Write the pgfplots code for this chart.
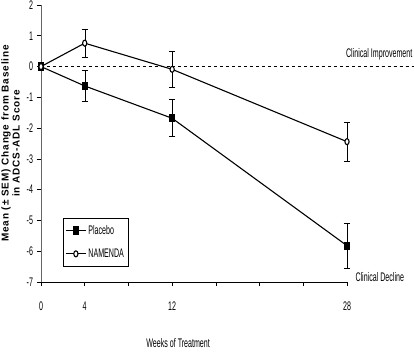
\documentclass[border=0pt]{standalone}
\usepackage{fontspec}
\setmainfont{Liberation Sans}
\newfontfamily\narrowfont[FakeStretch=0.57]{Liberation Sans}
\newfontfamily\labelfont[LetterSpace=9]{Liberation Sans}
\usepackage{pgfplots}
\pgfplotsset{compat=1.18}
\newcommand{\nf}{\narrowfont\fontsize{12.5}{14}\selectfont}
\begin{document}
\begin{tikzpicture}
\begin{axis}[
  at={(0,0)}, anchor=south west,
  scale only axis, width=306bp, height=277bp,
  xmin=0, xmax=28, ymin=-7, ymax=2,
  clip=false,
  axis x line*=bottom, axis y line*=left,
  axis line style={-, line width=0.8bp},
  y axis line style={gray!80!black},
  xtick={0,4,...,28}, xticklabels={0,4,,12,,,,28},
  ytick={-7,...,2},
  tick align=outside, major tick length=4bp,
  tick style={black, line width=0.6bp},
  /pgf/number format/assume math mode=true,
  ticklabel style={font=\nf},
  xticklabel style={yshift=-12bp},
  yticklabel style={xshift=-0.5bp},
  xlabel={Weeks of Treatment},
  xlabel style={at={(axis description cs:0.448,0)}, anchor=center, yshift=-61bp, font=\nf},
  legend style={at={(axis description cs:0.072,0.231)}, anchor=north west,
    draw=black, line width=0.6bp, font=\nf,
    row sep=9bp, inner xsep=2bp, inner ysep=5bp},
  legend cell align=left,
  legend image code/.code={\draw[mark repeat=2,mark phase=2,#1] plot coordinates {(0bp,0bp)(10bp,0bp)(20bp,0bp)};},
]
\addplot[black, line width=1.1bp, mark=square*, mark size=3.6bp, mark options={xscale=0.65, solid},
  error bars/.cd, y dir=both, y explicit, error mark=-, error mark options={mark size=3.2bp, line width=0.8bp, rotate=90}]
  coordinates {(0,0) +- (0,0) (4,-0.63) +- (0,0.49) (12,-1.68) +- (0,0.60) (28,-5.82) +- (0,0.73)};
\addlegendentry{Placebo}
\addplot[black, line width=1.1bp, mark=*, mark size=3bp, mark options={xscale=0.7, fill=white, solid},
  error bars/.cd, y dir=both, y explicit, error mark=-, error mark options={mark size=3.2bp, line width=0.8bp, rotate=90}]
  coordinates {(0,0) +- (0,0) (4,0.76) +- (0,0.46) (12,-0.09) +- (0,0.58) (28,-2.44) +- (0,0.64)};
\addlegendentry{NAMENDA}
\addplot[black, dashed, line width=0.8bp, forget plot] coordinates {(0,0) (34.2,0)};
\node[font=\nf] at (axis cs:30.95,0.41) {Clinical Improvement};
\node[font=\nf] at (axis cs:31.0,-6.83) {Clinical Decline};
\node[xshift=-30.5bp, rotate=90, align=center, font=\labelfont\bfseries\fontsize{10}{11}\selectfont] at (axis description cs:0,0.5) {Mean (± SEM) Change from Baseline\\in ADCS-ADL Score};
\end{axis}
\pgfresetboundingbox
\path[use as bounding box] (-41bp,-70bp) rectangle (373bp,282bp);
\end{tikzpicture}
\end{document}
